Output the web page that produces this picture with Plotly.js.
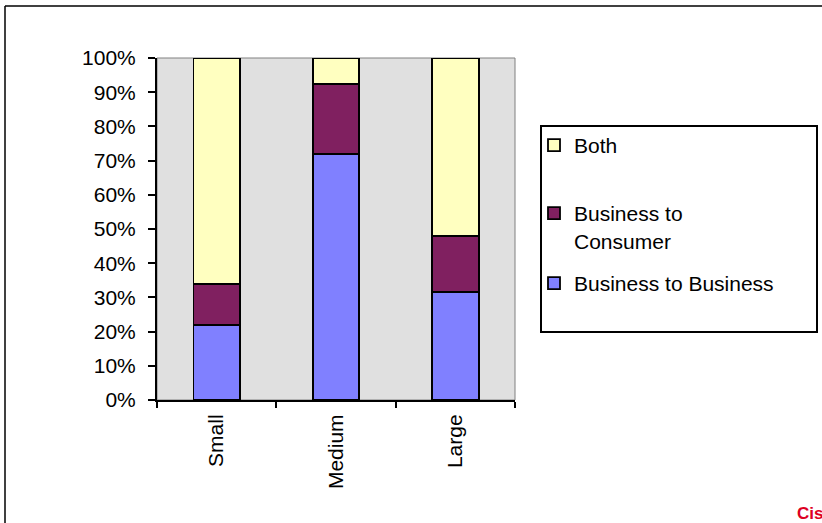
<!DOCTYPE html>
<html>
<head>
<meta charset="utf-8">
<script src="https://cdn.plot.ly/plotly-3.0.1.min.js"></script>
<style>html,body{margin:0;padding:0;background:#fff;}#chart{width:822px;height:523px;}</style>
</head>
<body>
<div id="chart"></div>
<script>
const categories = ['Small', 'Medium', 'Large'];
const businessToBusiness = [22, 72, 31.6];
const businessToConsumer = [12, 20.5, 16.4];
const both = [66, 7.5, 52];
const seriesNames = ['Business to Business', 'Business to<br>Consumer', 'Both'];
const yTickVals = [0, 10, 20, 30, 40, 50, 60, 70, 80, 90, 100];
const yTickLabels = ['0%', '10%', '20%', '30%', '40%', '50%', '60%', '70%', '80%', '90%', '100%'];

const FONT = 'Arial, "Liberation Sans", sans-serif';
const FS = 21;
const outline = {color: '#000', width: 1.8};

const traces = [
  {type: 'bar', x: categories, y: businessToBusiness, name: seriesNames[0],
   marker: {color: '#8080ff', line: outline}, legend: 'legend3', hoverinfo: 'skip'},
  {type: 'bar', x: categories, y: businessToConsumer, name: seriesNames[1],
   marker: {color: '#802060', line: outline}, legend: 'legend2', hoverinfo: 'skip'},
  {type: 'bar', x: categories, y: both, name: seriesNames[2],
   marker: {color: '#ffffc0', line: outline}, legend: 'legend', hoverinfo: 'skip'}
];

// pixel helpers for paper coords (plot area: x 157..515, y 58..400)
const px = v => (v - 157) / 358;
const py = v => (400 - v) / 342;

const legendBase = {
  bgcolor: 'rgba(0,0,0,0)', borderwidth: 0,
  font: {family: FONT, size: FS, color: '#000'},
  xanchor: 'left', yanchor: 'top', valign: 'top', x: px(534)
};

const layout = {
  width: 822, height: 523,
  margin: {l: 157, r: 307, t: 58, b: 123, pad: 0},
  paper_bgcolor: '#ffffff',
  plot_bgcolor: '#e0e0e0',
  barmode: 'stack',
  bargap: 0.61,
  font: {family: FONT, size: FS, color: '#000'},
  showlegend: true,
  legend: Object.assign({}, legendBase, {y: py(125)}),
  legend2: Object.assign({}, legendBase, {y: py(193)}),
  legend3: Object.assign({}, legendBase, {y: py(263)}),
  xaxis: {
    type: 'category', showgrid: false, zeroline: false,
    showline: true, linecolor: '#000', linewidth: 2,
    ticks: 'outside', tickson: 'boundaries', ticklen: 6, tickwidth: 2, tickcolor: '#000',
    tickangle: -90, ticklabelstandoff: 4,
    tickfont: {family: FONT, size: FS, color: '#000'},
    fixedrange: true
  },
  yaxis: {
    range: [0, 100], tickmode: 'array', tickvals: yTickVals, ticktext: yTickLabels,
    showgrid: false, zeroline: false,
    showline: true, linecolor: '#000', linewidth: 2,
    ticks: 'outside', ticklen: 7, tickwidth: 2, tickcolor: '#000',
    ticklabelstandoff: 8,
    tickfont: {family: FONT, size: FS, color: '#000'},
    fixedrange: true
  },
  shapes: [
    {type: 'rect', xref: 'paper', yref: 'paper', x0: 0, x1: 1, y0: 0, y1: 1,
     line: {color: '#808080', width: 1}, layer: 'below'},
    {type: 'rect', xref: 'paper', yref: 'paper', x0: px(541), x1: px(817), y0: py(332), y1: py(126),
     line: {color: '#000', width: 2}},
    {type: 'line', xref: 'paper', yref: 'paper', x0: px(5), x1: px(830), y0: py(6), y1: py(6),
     line: {color: '#000', width: 1.5}},
    {type: 'line', xref: 'paper', yref: 'paper', x0: px(5), x1: px(5), y0: py(6), y1: py(530),
     line: {color: '#000', width: 1.5}}
  ],
  annotations: [
    {text: '<b>Cis</b>', xref: 'paper', yref: 'paper', x: px(795), y: py(513),
     xanchor: 'left', yanchor: 'middle', showarrow: false,
     font: {family: FONT, size: 17, color: '#dd0022'}}
  ]
};

Plotly.newPlot('chart', traces, layout, {staticPlot: true, displayModeBar: false});
</script>
</body>
</html>
